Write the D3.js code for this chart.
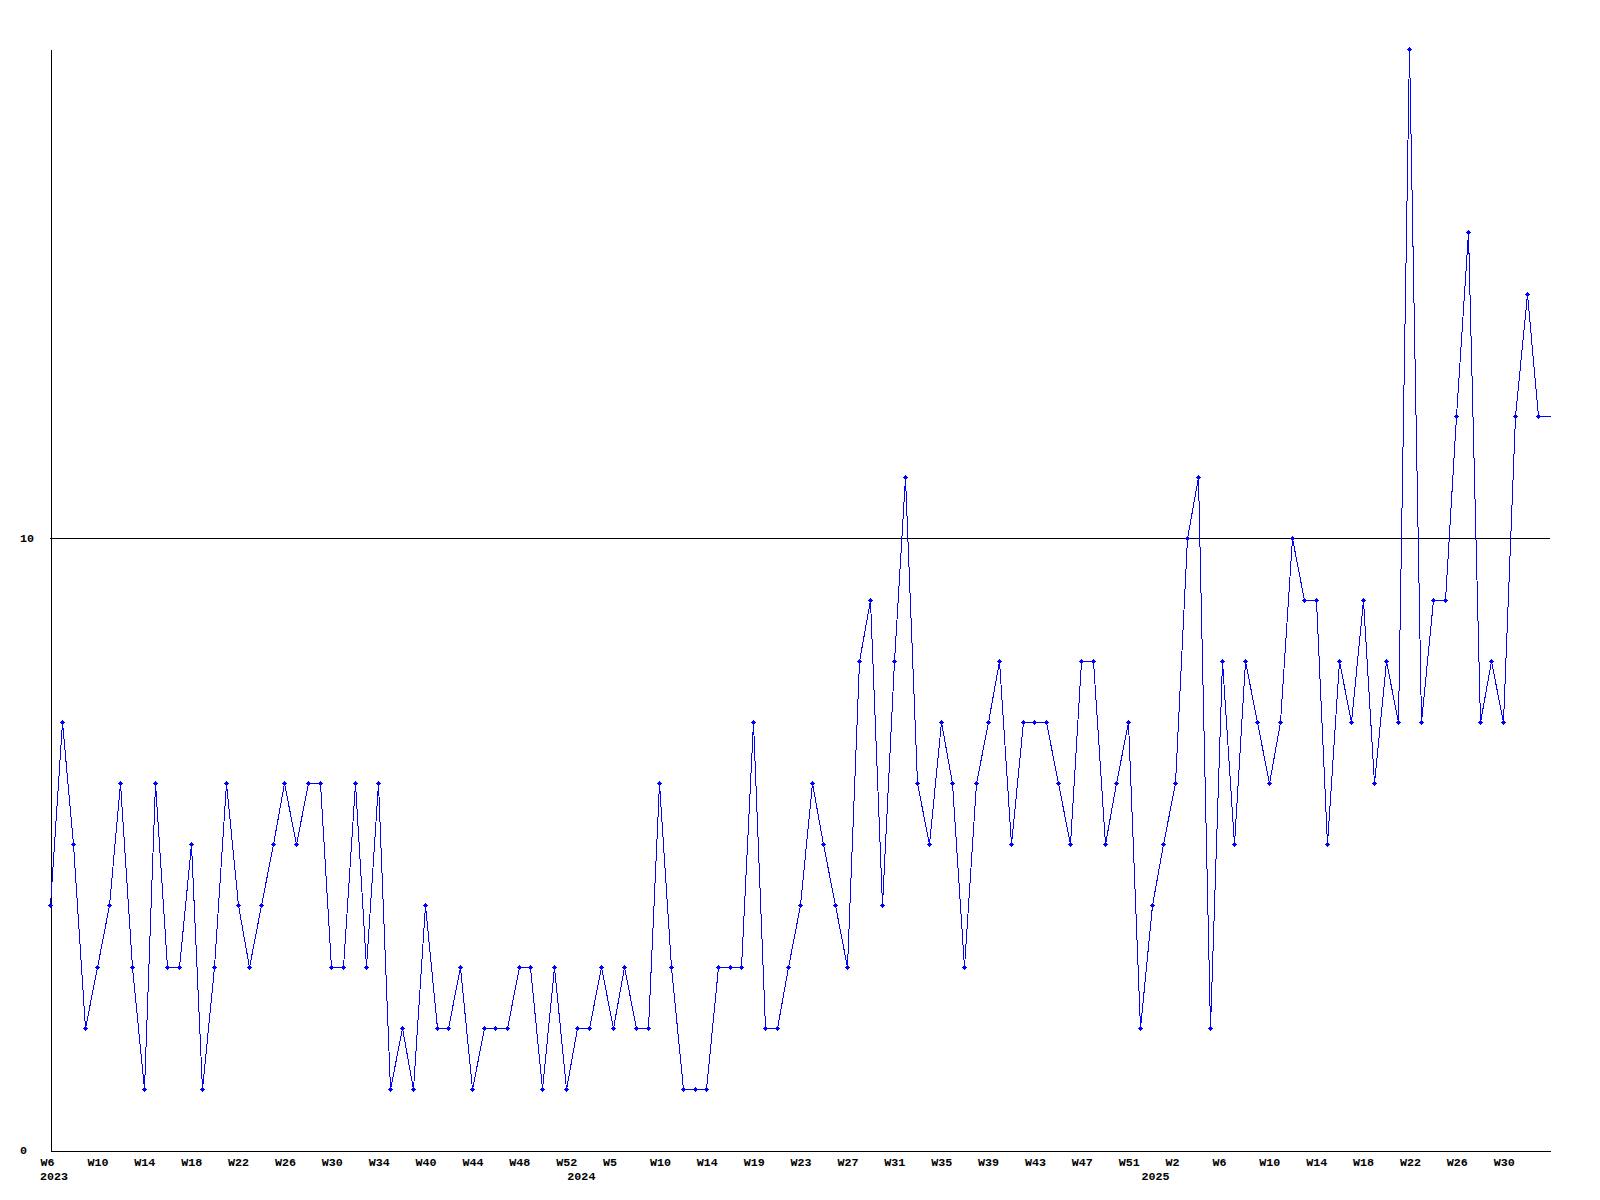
<!DOCTYPE html>
<html>
<head>
<meta charset="utf-8">
<script src="https://cdn.jsdelivr.net/npm/d3@7"></script>
<style>
  html, body { margin: 0; padding: 0; background: #fff; }
  svg { display: block; }
  text { font-family: "Liberation Mono", "DejaVu Sans Mono", monospace; font-weight: bold; font-size: 11.7px; fill: #000; }
</style>
</head>
<body>
<svg id="chart" width="1600" height="1200"></svg>
<script>
// Weekly values, 2023 W6 onwards (one per point)
const values = [
  4,7,5,2,3,4,6,3,1,6,
  3,3,5,1,3,6,4,3,4,5,
  6,5,6,6,3,3,6,3,6,1,
  2,1,4,2,2,3,1,2,2,2,
  3,3,1,3,1,2,2,3,2,3,
  2,2,6,3,1,1,1,3,3,3,
  7,2,2,3,4,6,5,4,3,8,
  9,4,8,11,6,5,7,6,3,6,
  7,8,5,7,7,7,6,5,8,8,
  5,6,7,2,4,5,6,10,11,2,
  8,5,8,7,6,7,10,9,9,5,
  8,7,9,6,8,7,18,7,9,9,
  12,15,7,8,7,12,14,12
];
// Week tick labels shown every 4th point
const weekLabels = ["W6","W10","W14","W18","W22","W26","W30","W34","W40","W44","W48","W52",
  "W5","W10","W14","W19","W23","W27","W31","W35","W39","W43","W47","W51",
  "W2","W6","W10","W14","W18","W22","W26","W30"];
const weekTickStep = 4;
// Year labels: point index where each year starts
const yearLabels = ["2023","2024","2025"];
const yearIndex = [0, 45, 94];
const yTicks = [0, 10];
const gridValues = [10];
const yMax = 18;

const svg = d3.select("#chart");
const mLeft = 50, mRight = 1550, mTop = 49, mBottom = 1150;
const nSlots = values.length; // right edge = one slot beyond last point

const x = d3.scaleLinear().domain([0, nSlots]).range([mLeft, mRight]);
const y = d3.scaleLinear().domain([0, yMax]).range([mBottom, mTop]);

// gridline
svg.append("g").selectAll("line").data(gridValues).join("line")
  .attr("x1", mLeft).attr("x2", mRight)
  .attr("y1", d => Math.round(y(d)) + 0.5).attr("y2", d => Math.round(y(d)) + 0.5)
  .attr("stroke", "#000").attr("stroke-width", 1).attr("shape-rendering", "crispEdges");

// x axis
const xAxis = d3.axisBottom(x)
  .tickValues(weekLabels.map((_, i) => i * weekTickStep))
  .tickFormat((d, i) => weekLabels[i])
  .tickSize(0).tickSizeOuter(0).tickPadding(0);
const gx = svg.append("g").attr("transform", `translate(0.5,${mBottom + 0.5})`).call(xAxis);
gx.select(".domain").attr("stroke", "#000").attr("shape-rendering", "crispEdges");
gx.selectAll("text")
  .attr("text-anchor", "start").attr("font-size", null).attr("font-family", null)
  .attr("x", -10.5).attr("y", 12).attr("dy", null)
  .attr("dominant-baseline", "middle");

// year labels
svg.append("g").selectAll("text").data(yearLabels).join("text")
  .attr("x", (d, i) => x(yearIndex[i]) - 10)
  .attr("y", mBottom + 27)
  .attr("dominant-baseline", "middle")
  .text(d => d);

// y axis
const yAxis = d3.axisLeft(y).tickValues(yTicks).tickFormat(d3.format("d"))
  .tickSize(0).tickSizeOuter(0).tickPadding(0);
const gy = svg.append("g").attr("transform", `translate(${mLeft + 0.5},0.5)`).call(yAxis);
gy.select(".domain").attr("stroke", "#000").attr("shape-rendering", "crispEdges");
gy.selectAll("text")
  .attr("text-anchor", "start").attr("font-size", null).attr("font-family", null)
  .attr("x", -30.5).attr("dy", null).attr("dominant-baseline", "middle");

// series line (last value carried to the right edge)
const linePts = values.map((v, i) => [i, v]).concat([[nSlots, values[values.length - 1]]]);
const line = d3.line().x(d => Math.round(x(d[0])) + 0.5).y(d => Math.round(y(d[1])) + 0.5);
svg.append("path").datum(linePts)
  .attr("d", line)
  .attr("fill", "none").attr("stroke", "#0000ff").attr("stroke-width", 1)
  .attr("shape-rendering", "crispEdges");

// markers
const marker = "M-2.5,-0.5h5v1h-5z M-0.5,-2.5h1v5h-1z M-1.5,-1.5h3v3h-3z";
svg.append("g").selectAll("path").data(values).join("path")
  .attr("transform", (d, i) => `translate(${Math.round(x(i)) + 0.5},${Math.round(y(d)) + 0.5})`)
  .attr("d", marker)
  .attr("fill", "#0000ff")
  .attr("shape-rendering", "crispEdges");
</script>
</body>
</html>
